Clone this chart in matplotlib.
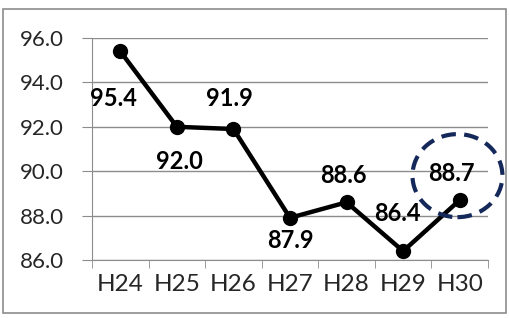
import matplotlib
matplotlib.use("Agg")
import matplotlib.pyplot as plt
from matplotlib.patches import Ellipse, Rectangle

categories = ["H24", "H25", "H26", "H27", "H28", "H29", "H30"]
values = [95.4, 92.0, 91.9, 87.9, 88.6, 86.4, 88.7]
yticks = [86.0, 88.0, 90.0, 92.0, 94.0, 96.0]

# label offsets in points (style)
label_dx = [-5, 2, -3, 0, -2, -4, -6]
label_dy = [-34, -25, 22, -16, 19, 27, 19]

plt.rcParams['font.family'] = ['Lato', 'DejaVu Sans']

fig = plt.figure(figsize=(5.09, 3.18), dpi=100)
fig.patches.append(Rectangle((3/509, 5/318), 503/509, 304/318, transform=fig.transFigure,
                             fill=False, edgecolor='#8c8c8c', linewidth=1.2))
ax = fig.add_axes([92/509, 1-260/318, (488-92)/509, (260-38)/318])

x = list(range(len(categories)))
ax.plot(x, values, color='black', linewidth=3.2, marker='o', markersize=10, zorder=3)

for xi, v, dx, dy in zip(x, values, label_dx, label_dy):
    ax.annotate(f"{v:.1f}", (xi, v), xytext=(dx, dy), textcoords='offset points',
                ha='center', va='center', fontsize=17, fontweight='bold', color='black')

ax.set_ylim(86, 96)
ax.set_xlim(-0.5, len(categories) - 0.5)
ax.set_yticks(yticks)
ax.set_yticklabels([f"{t:.1f}" for t in yticks], fontsize=16, color='#262626')
ax.set_xticks(x)
ax.set_xticklabels(categories, fontsize=17.5, color='#262626')
ax.tick_params(axis='x', which='major', length=0, pad=10)
ax.set_xticks([i - 0.5 for i in range(len(categories) + 1)], minor=True)
ax.tick_params(axis='x', which='minor', length=6, color='#8c8c8c', direction='out')
ax.tick_params(axis='y', length=7, color='#8c8c8c', pad=13)
ax.grid(axis='y', color='#8c8c8c', linewidth=1.0)
ax.set_axisbelow(True)
for s in ['top', 'right']:
    ax.spines[s].set_visible(False)
for s in ['left', 'bottom']:
    ax.spines[s].set_color('#8c8c8c')

ell = Ellipse((5.96, 89.8), 1.59, 3.74, fill=False, edgecolor='#14285a', linewidth=3,
              linestyle=(0, (3.5, 2)), clip_on=False, zorder=4)
ax.add_patch(ell)

fig.savefig("out.png", dpi=100)
